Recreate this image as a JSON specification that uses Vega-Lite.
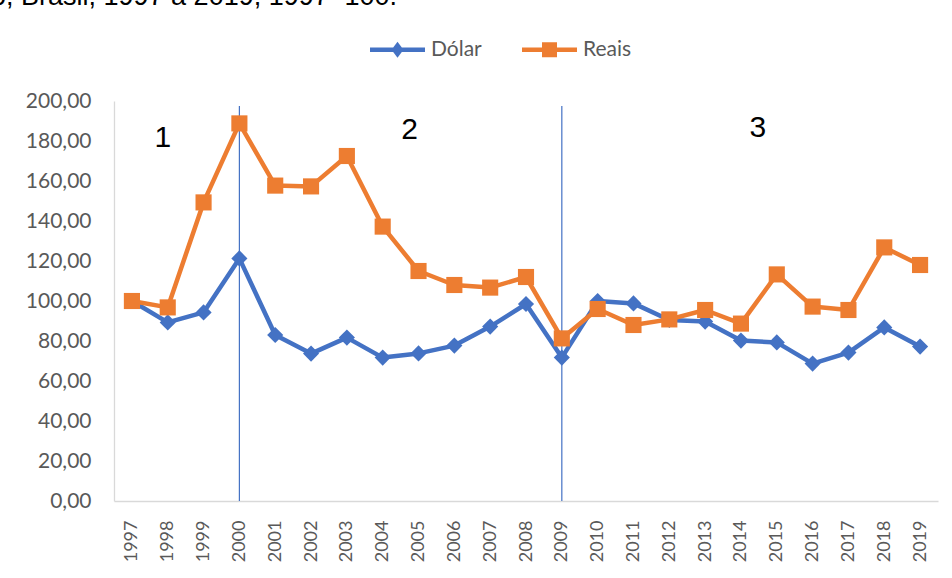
{
  "$schema": "https://vega.github.io/schema/vega-lite/v6.json",
  "width": 824,
  "height": 400,
  "autosize": {"type": "none"},
  "padding": {"left": 114, "top": 101, "right": 14, "bottom": 77},
  "background": "white",
  "title": {
    "text": "o, Brasil, 1997 a 2019, 1997=100.",
    "anchor": "start",
    "frame": "group",
    "font": "Liberation Sans",
    "fontSize": 27,
    "fontWeight": "normal",
    "color": "#000000",
    "baseline": "alphabetic",
    "dx": -123,
    "offset": 7
  },
  "config": {
    "locale": {"number": {"decimal": ",", "thousands": ".", "grouping": [3], "currency": ["R$ ", ""]}},
    "view": {"stroke": null},
    "axisY": {"labelOverlap": false, "labelFlush": false, "grid": false, "ticks": false},
    "axisX": {"labelOverlap": false, "grid": false, "ticks": false}
  },
  "datasets": {
    "series": [
      {"year": "1997", "series": "Dólar", "value": 100},
      {"year": "1998", "series": "Dólar", "value": 89.3},
      {"year": "1999", "series": "Dólar", "value": 94.3},
      {"year": "2000", "series": "Dólar", "value": 121.3},
      {"year": "2001", "series": "Dólar", "value": 83},
      {"year": "2002", "series": "Dólar", "value": 73.7},
      {"year": "2003", "series": "Dólar", "value": 81.7},
      {"year": "2004", "series": "Dólar", "value": 71.7},
      {"year": "2005", "series": "Dólar", "value": 73.8},
      {"year": "2006", "series": "Dólar", "value": 77.7},
      {"year": "2007", "series": "Dólar", "value": 87.2},
      {"year": "2008", "series": "Dólar", "value": 98.5},
      {"year": "2009", "series": "Dólar", "value": 71.7},
      {"year": "2010", "series": "Dólar", "value": 100},
      {"year": "2011", "series": "Dólar", "value": 98.8},
      {"year": "2012", "series": "Dólar", "value": 90.5},
      {"year": "2013", "series": "Dólar", "value": 89.7},
      {"year": "2014", "series": "Dólar", "value": 80.2},
      {"year": "2015", "series": "Dólar", "value": 79.3},
      {"year": "2016", "series": "Dólar", "value": 68.7},
      {"year": "2017", "series": "Dólar", "value": 74.2},
      {"year": "2018", "series": "Dólar", "value": 86.8},
      {"year": "2019", "series": "Dólar", "value": 77.2},
      {"year": "1997", "series": "Reais", "value": 100},
      {"year": "1998", "series": "Reais", "value": 96.8},
      {"year": "1999", "series": "Reais", "value": 149.3},
      {"year": "2000", "series": "Reais", "value": 188.8},
      {"year": "2001", "series": "Reais", "value": 157.7},
      {"year": "2002", "series": "Reais", "value": 157.3},
      {"year": "2003", "series": "Reais", "value": 172.5},
      {"year": "2004", "series": "Reais", "value": 137.2},
      {"year": "2005", "series": "Reais", "value": 115},
      {"year": "2006", "series": "Reais", "value": 108},
      {"year": "2007", "series": "Reais", "value": 106.7},
      {"year": "2008", "series": "Reais", "value": 112},
      {"year": "2009", "series": "Reais", "value": 81.3},
      {"year": "2010", "series": "Reais", "value": 96},
      {"year": "2011", "series": "Reais", "value": 88},
      {"year": "2012", "series": "Reais", "value": 90.8},
      {"year": "2013", "series": "Reais", "value": 95.5},
      {"year": "2014", "series": "Reais", "value": 88.7},
      {"year": "2015", "series": "Reais", "value": 113.3},
      {"year": "2016", "series": "Reais", "value": 97.2},
      {"year": "2017", "series": "Reais", "value": 95.5},
      {"year": "2018", "series": "Reais", "value": 126.8},
      {"year": "2019", "series": "Reais", "value": 118}
    ],
    "breaks": [
      {"year": "2000", "bottom": 0, "top": 197.5},
      {"year": "2009", "bottom": 0, "top": 197.5}
    ],
    "notes": [
      {"year": "1998", "pos": 181.6, "label": "1"},
      {"year": "2005", "pos": 185.5, "label": "2"},
      {"year": "2014", "pos": 186.7, "label": "3"}
    ]
  },
  "encoding": {
    "x": {
      "field": "year", "type": "ordinal", "title": null,
      "scale": {"type": "point", "padding": 0.5},
      "axis": {
        "labelAngle": -90, "labelAlign": "right", "labelBaseline": "middle",
        "labelFont": "Lato", "labelFontSize": 18, "labelColor": "#595959",
        "labelPadding": 19, "domainColor": "#D9D9D9", "domainWidth": 1.3
      }
    },
    "y": {
      "field": "value", "type": "quantitative", "title": null,
      "scale": {"domain": [0, 200], "nice": false},
      "axis": {
        "values": [0, 20, 40, 60, 80, 100, 120, 140, 160, 180, 200],
        "tickCount": 11,
        "format": ".2f", "labelOverlap": false,
        "labelFont": "Lato", "labelFontSize": 21, "labelColor": "#595959",
        "labelPadding": 23, "domainColor": "#D9D9D9", "domainWidth": 1.3
      }
    }
  },
  "layer": [
    {
      "data": {"name": "breaks"},
      "mark": {"type": "rule", "color": "#4472C4", "strokeWidth": 1.2},
      "encoding": {
        "y": {"field": "bottom", "type": "quantitative"},
        "y2": {"field": "top"}
      }
    },
    {
      "data": {"name": "series"},
      "transform": [{"filter": "datum.series === 'Dólar'"}],
      "mark": {"type": "line", "strokeWidth": 4.5, "strokeJoin": "round", "strokeCap": "round"},
      "encoding": {
        "color": {
          "field": "series", "type": "nominal",
          "scale": {"domain": ["Dólar", "Reais"], "range": ["#4472C4", "#ED7D31"]}
        }
      }
    },
    {
      "data": {"name": "series"},
      "transform": [{"filter": "datum.series === 'Dólar'"}],
      "mark": {"type": "point", "filled": true, "opacity": 1, "size": 260, "shape": "diamond"},
      "encoding": {
        "color": {"field": "series", "type": "nominal"}
      }
    },
    {
      "data": {"name": "series"},
      "transform": [{"filter": "datum.series === 'Reais'"}],
      "mark": {"type": "line", "strokeWidth": 4.5, "strokeJoin": "round", "strokeCap": "round"},
      "encoding": {
        "color": {"field": "series", "type": "nominal"}
      }
    },
    {
      "data": {"name": "series"},
      "transform": [{"filter": "datum.series === 'Reais'"}],
      "mark": {"type": "point", "filled": true, "opacity": 1, "size": 260, "shape": "square"},
      "encoding": {
        "color": {"field": "series", "type": "nominal"}
      }
    },
    {
      "data": {"name": "series"},
      "transform": [{"filter": "false"}],
      "mark": {"type": "point", "filled": true, "opacity": 1, "size": 400},
      "encoding": {
        "color": {
          "field": "series", "type": "nominal",
          "legend": {
            "orient": "none", "direction": "horizontal",
            "legendX": 273, "legendY": -62,
            "title": null,
            "labelFont": "Lato", "labelFontSize": 21, "labelColor": "#595959",
            "symbolSize": 400, "symbolStrokeWidth": 0, "symbolOpacity": 1,
            "labelOffset": 23, "columnPadding": 40
          }
        },
        "shape": {
          "field": "series", "type": "nominal",
          "scale": {
            "domain": ["Dólar", "Reais"],
            "range": [
              "M-2.75,-0.22H2.75V0.22H-2.75Z M0,-0.8L0.6,0L0,0.8L-0.6,0Z",
              "M-2.75,-0.22H2.75V0.22H-2.75Z M-0.75,-0.75H0.75V0.75H-0.75Z"
            ]
          }
        }
      }
    },
    {
      "data": {"name": "notes"},
      "transform": [{"filter": "datum.label === '1'"}],
      "mark": {"type": "text", "font": "Liberation Sans", "fontSize": 30, "color": "#000000", "align": "center", "baseline": "middle", "dx": -5},
      "encoding": {
        "y": {"field": "pos", "type": "quantitative"},
        "text": {"field": "label"}
      }
    },
    {
      "data": {"name": "notes"},
      "transform": [{"filter": "datum.label === '2'"}],
      "mark": {"type": "text", "font": "Liberation Sans", "fontSize": 30, "color": "#000000", "align": "center", "baseline": "middle", "dx": -9},
      "encoding": {
        "y": {"field": "pos", "type": "quantitative"},
        "text": {"field": "label"}
      }
    },
    {
      "data": {"name": "notes"},
      "transform": [{"filter": "datum.label === '3'"}],
      "mark": {"type": "text", "font": "Liberation Sans", "fontSize": 30, "color": "#000000", "align": "center", "baseline": "middle", "dx": 17},
      "encoding": {
        "y": {"field": "pos", "type": "quantitative"},
        "text": {"field": "label"}
      }
    }
  ]
}
